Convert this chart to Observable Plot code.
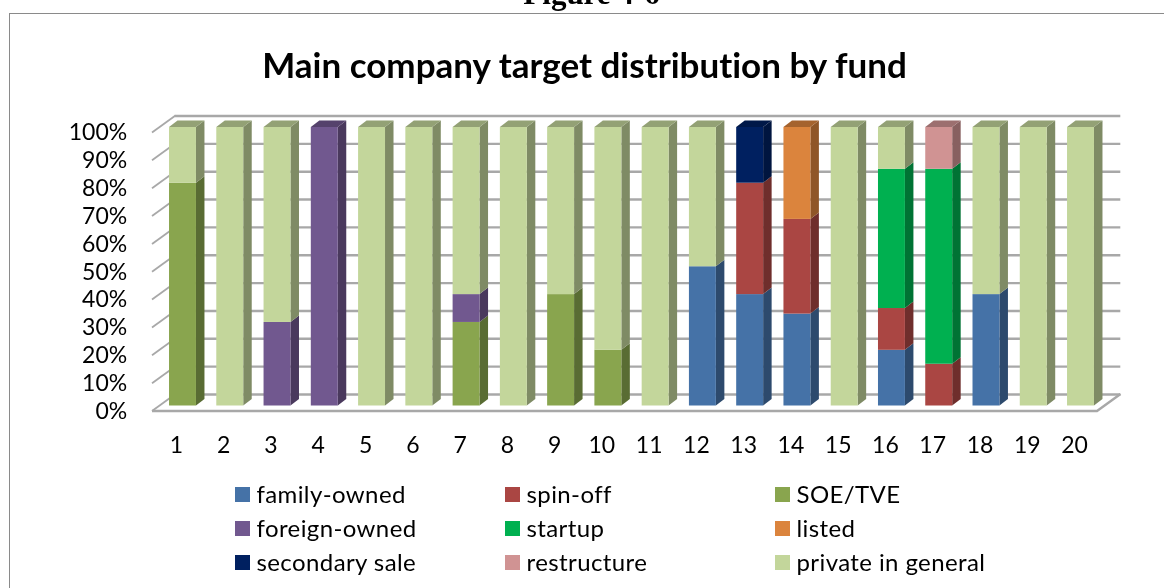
<!DOCTYPE html>
<html><head><meta charset="utf-8">
<script src="https://cdn.jsdelivr.net/npm/d3@7"></script>
<script src="https://cdn.jsdelivr.net/npm/@observablehq/plot@0.6"></script>
<style>
html,body{margin:0;padding:0;background:#fff;overflow:hidden}
#page{position:relative;width:1164px;height:588px;overflow:hidden;font-family:Lato,sans-serif;color:#000;filter:blur(.6px);font-variant-ligatures:none}
#frame{position:absolute;left:9px;top:13px;right:-5px;bottom:-5px;border:1.5px solid #8a8a8a}
#fig{position:absolute;left:0;width:1164px;padding-left:19px;box-sizing:border-box;top:-22px;text-align:center;font:bold 31px "Liberation Serif",serif;line-height:31px}
#title{position:absolute;left:0;width:1169px;top:43px;text-align:center;font-weight:bold;font-size:35px;line-height:42px}
#chart{position:absolute;left:0;top:100px}
#chart svg{background:transparent;display:block}
#legend div{position:absolute;font-size:24px;letter-spacing:.4px;line-height:26px;white-space:nowrap}
#legend i{position:absolute;width:15px;height:15px}
</style></head><body>
<div id="page">
<div id="frame"></div>
<div id="fig">Figure 4-6</div>
<div id="title">Main company target distribution by fund</div>
<div id="chart"></div>
<div id="legend"></div>
</div>
<script>
const funds = d3.range(1, 21);
const seriesNames = ["family-owned","spin-off","SOE/TVE","foreign-owned","startup","listed","secondary sale","restructure","private in general"];
const seriesColors = ["#4572A7","#AA4643","#89A54E","#71588F","#00B050","#DB843D","#002060","#D09393","#C3D69B"];
const familyOwned =  [0,0,0,0,0,0,0,0,0,0,0,.5,.4,.33,0,.2,0,.4,0,0];
const spinOff =      [0,0,0,0,0,0,0,0,0,0,0,0,.4,.34,0,.15,.15,0,0,0];
const soeTve =       [.8,0,0,0,0,0,.3,0,.4,.2,0,0,0,0,0,0,0,0,0,0];
const foreignOwned = [0,0,.3,1,0,0,.1,0,0,0,0,0,0,0,0,0,0,0,0,0];
const startup =      [0,0,0,0,0,0,0,0,0,0,0,0,0,0,0,.5,.7,0,0,0];
const listed =       [0,0,0,0,0,0,0,0,0,0,0,0,0,.33,0,0,0,0,0,0];
const secondarySale =[0,0,0,0,0,0,0,0,0,0,0,0,.2,0,0,0,0,0,0,0];
const restructure =  [0,0,0,0,0,0,0,0,0,0,0,0,0,0,0,0,.15,0,0,0];
const privateGeneral=[.2,1,.7,0,1,1,.6,1,.6,.8,1,.5,0,0,1,.15,0,.6,1,1];
const yTicks = [0,.1,.2,.3,.4,.5,.6,.7,.8,.9,1];

const seriesValues = [familyOwned,spinOff,soeTve,foreignOwned,startup,listed,secondarySale,restructure,privateGeneral];
const rows = seriesNames.flatMap((s,k)=>funds.map((f,i)=>({fund:f,series:s,value:seriesValues[k][i]}))).filter(d=>d.value>0);

// 3-D look: pixel offsets of the oblique projection
const barDx=8.5, barDy=-6.5, wallDx=26, wallDy=-11.5, frontDy=5.5, depthDx=23.5, depthDy=-17;

function sideFaces(index,scales,values){
  const g=d3.create("svg:g"), bw=scales.x.bandwidth();
  for(const i of index){
    const x=values.x[i]+bw, a=values.y1[i], b=values.y2[i];
    g.append("path").attr("d",`M${x},${a}L${x+barDx},${a+barDy}L${x+barDx},${b+barDy}L${x},${b}Z`)
      .attr("fill",d3.color(values.fill[i]).darker(1.2));
  }
  return g.node();
}
function topFaces(index,scales,values){
  const g=d3.create("svg:g"), bw=scales.x.bandwidth(), top=scales.y(1);
  for(const i of index){
    const y=Math.min(values.y1[i],values.y2[i]); if(Math.abs(y-top)>.5) continue;
    const x=values.x[i];
    g.append("path").attr("d",`M${x},${y}L${x+barDx},${y+barDy}L${x+bw+barDx},${y+barDy}L${x+bw},${y}Z`)
      .attr("fill",d3.color(values.fill[i]).darker(.8));
  }
  return g.node();
}
function diagonals(index,scales,values,dims){
  const g=d3.create("svg:g").attr("stroke","#a8a8a8").attr("stroke-width",1.8).attr("fill","none");
  for(const t of yTicks){
    const y=scales.y(t)+frontDy;
    g.append("line").attr("x1",152).attr("y1",y).attr("x2",152+depthDx).attr("y2",y+depthDy);
  }
  return g.node();
}
function floorPlane(index,scales){
  const y=scales.y(0)+frontDy, r=1097;
  const g=d3.create("svg:g");
  g.append("path").attr("d",`M152,${y}H${r}L${r+depthDx},${y+depthDy}`).attr("fill","none").attr("stroke","#a8a8a8").attr("stroke-width",2.4);
  return g.node();
}

const stack = {x:"fund",y:"value",z:"series",fill:"series",order:seriesNames};
const chart = Plot.plot({
  width:1164,height:370,
  marginLeft:148.7,marginRight:49.7,marginTop:27,marginBottom:64.5,
  style:{fontFamily:"Lato,sans-serif",fontSize:"23px",color:"#000",background:"transparent"},
  x:{type:"band",domain:funds,padding:.43,round:false,label:null},
  y:{domain:[0,1],label:null},
  color:{domain:seriesNames,range:seriesColors},
  marks:[
    Plot.ruleY(yTicks,{y:d=>d,stroke:"#a8a8a8",strokeWidth:2.4,dy:wallDy,insetLeft:wallDx,insetRight:-6}),
    Plot.ruleY([0],{y:d=>d,render:diagonals}),
    Plot.ruleY([0],{y:d=>d,render:floorPlane}),
    Plot.barY(rows,{...stack,render:sideFaces}),
    Plot.barY(rows,stack),
    Plot.barY(rows,{...stack,render:topFaces}),
    Plot.axisY({ticks:yTicks,tickFormat:d3.format(".0%"),tickSize:0,tickPadding:22,dy:frontDy,label:null,fontSize:23}),
    Plot.axisX({tickSize:0,tickPadding:31,dx:-6.5,label:null,fontSize:23})
  ]
});
document.getElementById("chart").appendChild(chart);

const legX=[235,505,775], legY=[487,521,555], legend=document.getElementById("legend");
seriesNames.forEach((s,k)=>{
  const c=k%3,r=Math.floor(k/3);
  const sw=document.createElement("i");
  sw.style.cssText=`left:${legX[c]}px;top:${legY[r]}px;background:${seriesColors[k]}`;
  const t=document.createElement("div");
  t.textContent=s;
  t.style.cssText=`left:${legX[c]+21.5}px;top:${legY[r]-6.5}px`;
  legend.append(sw,t);
});
</script>
</body></html>
